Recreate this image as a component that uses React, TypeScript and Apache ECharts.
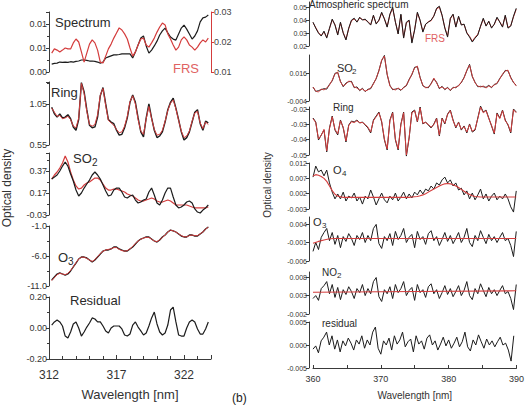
import React, { useEffect, useRef } from "react";
import * as echarts from "echarts";

// ---------- Left panel (312–324 nm), sampled every 0.2 nm from 312.2 ----------
const leftStart = 312.2;
const leftStep = 0.2;

const leftSpectrum = [0.0023,0.0025,0.0026,0.0029,0.0028,0.0029,0.0028,0.003,0.0029,0.0031,0.0032,0.0035,0.0035,0.0034,0.0032,0.0032,0.0031,0.0029,0.0026,0.0029,0.0041,0.0044,0.0047,0.005,0.005,0.0051,0.0053,0.0053,0.0053,0.0053,0.0041,0.0058,0.0079,0.0099,0.0105,0.0076,0.0055,0.0064,0.0076,0.009,0.0108,0.012,0.0128,0.0114,0.0102,0.0096,0.0093,0.0111,0.0128,0.0137,0.0125,0.0111,0.0096,0.0105,0.012,0.0146,0.0158,0.016,0.0166];
const leftFRS = [0.0163,0.0177,0.0173,0.0167,0.0173,0.018,0.0177,0.0177,0.0197,0.021,0.02,0.0167,0.0133,0.0163,0.0193,0.0207,0.0197,0.0173,0.0133,0.013,0.0153,0.0177,0.0193,0.0213,0.023,0.0247,0.024,0.0227,0.021,0.018,0.0153,0.0167,0.019,0.021,0.0213,0.019,0.0183,0.0197,0.0213,0.0233,0.025,0.0263,0.0257,0.0227,0.021,0.019,0.0173,0.0183,0.0207,0.0217,0.0207,0.019,0.0183,0.0173,0.0183,0.0197,0.0207,0.02,0.0213];
const leftRing = [1.01,0.93,0.89,0.93,0.88,0.89,0.92,0.87,0.77,0.73,0.86,1.31,1.2,0.98,0.79,0.76,0.77,0.89,1.15,1.25,1.05,0.86,0.83,0.81,0.73,0.67,0.68,0.76,0.88,1.07,1.16,1.07,0.88,0.71,0.65,0.88,1.05,0.88,0.73,0.64,0.66,0.71,0.83,0.98,1.07,1.12,1.0,0.86,0.71,0.61,0.64,0.71,0.83,0.95,0.98,0.81,0.73,0.84,0.82];
const leftRingFit = [1.0,0.95,0.9,0.91,0.87,0.88,0.9,0.86,0.78,0.76,0.88,1.3,1.18,0.96,0.8,0.78,0.8,0.92,1.16,1.24,1.03,0.85,0.82,0.79,0.74,0.7,0.71,0.78,0.9,1.08,1.15,1.05,0.86,0.72,0.68,0.87,1.02,0.87,0.74,0.67,0.68,0.73,0.84,0.97,1.06,1.1,0.99,0.85,0.72,0.64,0.66,0.72,0.84,0.94,0.96,0.82,0.75,0.83,0.8];
const leftSO2 = [0.297,0.315,0.334,0.37,0.415,0.452,0.415,0.343,0.279,0.197,0.143,0.17,0.215,0.252,0.288,0.334,0.361,0.334,0.297,0.243,0.188,0.143,0.152,0.197,0.215,0.215,0.179,0.134,0.125,0.143,0.152,0.106,0.079,0.088,0.106,0.115,0.179,0.215,0.152,0.079,0.061,0.106,0.17,0.215,0.215,0.134,0.061,0.034,0.043,0.061,0.088,0.097,0.079,0.025,-0.003,-0.012,0.015,0.034,0.061];
const leftSO2Fit = [0.297,0.334,0.361,0.397,0.443,0.506,0.452,0.361,0.288,0.234,0.206,0.215,0.243,0.261,0.27,0.288,0.306,0.306,0.288,0.252,0.215,0.197,0.197,0.206,0.206,0.197,0.188,0.179,0.161,0.152,0.143,0.125,0.106,0.097,0.097,0.106,0.115,0.125,0.115,0.097,0.088,0.088,0.097,0.106,0.097,0.079,0.061,0.061,0.061,0.061,0.061,0.052,0.043,0.034,0.034,0.034,0.034,0.034,0.043];
const leftO3 = [-10.0,-9.5,-9.0,-8.83,-9.0,-9.17,-9.0,-8.5,-7.83,-7.17,-6.5,-6.17,-6.17,-6.33,-6.67,-7.0,-6.67,-6.17,-5.67,-5.17,-5.0,-5.0,-4.83,-4.5,-4.5,-4.83,-5.0,-5.17,-5.17,-4.83,-4.5,-4.0,-3.5,-3.17,-3.0,-2.83,-2.83,-3.17,-3.5,-3.67,-3.33,-2.83,-2.5,-2.0,-1.67,-1.83,-2.0,-2.33,-2.67,-2.83,-2.83,-2.5,-2.5,-2.67,-2.67,-2.33,-2.0,-1.5,-1.17];
const leftO3Fit = [-10.1,-9.6,-9.1,-8.9,-9.0,-9.1,-8.9,-8.4,-7.8,-7.1,-6.5,-6.2,-6.2,-6.4,-6.7,-6.9,-6.6,-6.1,-5.6,-5.2,-5.0,-4.9,-4.8,-4.6,-4.6,-4.9,-5.1,-5.2,-5.1,-4.8,-4.4,-3.9,-3.5,-3.2,-3.0,-2.9,-2.9,-3.2,-3.5,-3.6,-3.3,-2.9,-2.5,-2.0,-1.7,-1.8,-2.0,-2.3,-2.6,-2.8,-2.8,-2.6,-2.5,-2.6,-2.6,-2.3,-2.0,-1.5,-1.2];
const leftResidual = [0.019,0.039,0.052,0.039,0.013,-0.052,-0.065,-0.026,0.026,0.039,0,-0.052,-0.026,0.006,0.032,0.065,0.058,0.039,0.039,0.013,-0.019,-0.032,0,0.013,0.013,0.013,-0.006,-0.045,-0.052,-0.039,0.019,0.039,0.006,-0.019,-0.045,-0.032,0.013,0.065,0.103,0.026,-0.026,-0.045,-0.032,0.019,0.116,0.135,0.039,-0.045,-0.052,-0.052,0,0.039,0.052,0.039,-0.006,-0.039,-0.039,-0.006,0.039];

const leftTicks = { min: 312, max: 324, interval: 5 };

// ---------- Right panel (360–390 nm), sampled every 0.4 nm from 360.0 ----------
const rightStart = 360.0;
const rightStep = 0.4;

const rightAtmos = [0.0387,0.034,0.0301,0.0278,0.0317,0.0262,0.034,0.0411,0.0364,0.0286,0.0387,0.0301,0.0247,0.034,0.0403,0.0418,0.0387,0.0426,0.0403,0.0411,0.0387,0.0364,0.0442,0.0372,0.0403,0.0465,0.0411,0.0348,0.045,0.0504,0.0387,0.0294,0.045,0.0262,0.0387,0.0403,0.0223,0.0325,0.0465,0.0403,0.0309,0.0372,0.0387,0.0403,0.0434,0.0496,0.0512,0.0442,0.034,0.027,0.0418,0.045,0.0348,0.0434,0.0364,0.0372,0.0301,0.027,0.0231,0.0262,0.0286,0.0356,0.0418,0.0356,0.0395,0.034,0.0372,0.0426,0.0387,0.0348,0.0442,0.034,0.0356,0.0434,0.0496];
const rightFRS = [0.0383,0.0345,0.0305,0.0283,0.031,0.0268,0.0335,0.0405,0.0368,0.0292,0.038,0.0306,0.0253,0.0335,0.0398,0.0412,0.039,0.042,0.0408,0.0405,0.0392,0.0368,0.0436,0.0378,0.0398,0.0458,0.0415,0.0352,0.0445,0.0495,0.039,0.0298,0.0443,0.0268,0.0382,0.0398,0.0232,0.033,0.0458,0.0398,0.0315,0.0368,0.0392,0.0398,0.0438,0.049,0.0505,0.0438,0.0345,0.0278,0.0412,0.0445,0.0352,0.0428,0.0368,0.0368,0.0305,0.0276,0.0238,0.0268,0.0292,0.0352,0.0412,0.036,0.039,0.0345,0.0368,0.042,0.039,0.0352,0.0436,0.0345,0.036,0.0428,0.0488];
const rightSO2 = [0.006,0.0028,0.0034,0.0041,0.0048,0.0045,0.0079,0.0104,0.0158,0.0163,0.0101,0.0062,0.0088,0.0098,0.0101,0.0055,0.0061,0.0034,0.0051,0.0027,0.0044,0.0048,0.0086,0.0119,0.0179,0.0249,0.0286,0.0148,0.0072,0.0041,0.0045,0.0049,0.0036,0.0058,0.0069,0.0115,0.0148,0.0201,0.0205,0.0129,0.0069,0.0058,0.0055,0.0086,0.0119,0.0094,0.0048,0.0065,0.0041,0.0058,0.0034,0.0058,0.0055,0.0072,0.0091,0.0129,0.0176,0.0222,0.0134,0.0094,0.0062,0.0065,0.0062,0.0058,0.0072,0.0055,0.0079,0.0084,0.0122,0.0148,0.0179,0.0176,0.0129,0.0091,0.0072];
const rightSO2Fit = [0.006,0.0031,0.0024,0.0046,0.0039,0.0053,0.0074,0.011,0.0153,0.0167,0.0096,0.0067,0.0081,0.0103,0.0096,0.006,0.0053,0.0039,0.0046,0.0031,0.0039,0.0053,0.0081,0.0124,0.0174,0.0253,0.0281,0.0153,0.0067,0.0046,0.0039,0.0053,0.0039,0.0053,0.0074,0.011,0.0153,0.0196,0.021,0.0124,0.0074,0.0053,0.006,0.0081,0.0124,0.0089,0.0053,0.006,0.0046,0.0053,0.0039,0.0053,0.006,0.0067,0.0096,0.0124,0.0181,0.0217,0.0139,0.0089,0.0067,0.006,0.0067,0.0053,0.0067,0.006,0.0074,0.0089,0.0117,0.0153,0.0174,0.0181,0.0124,0.0096,0.0067];
const rightRing = [-0.0258,-0.0284,-0.0402,-0.0369,-0.0337,-0.048,-0.0323,-0.0245,-0.0337,-0.0369,-0.0271,-0.0323,-0.0415,-0.0304,-0.0278,-0.0284,-0.0271,-0.0291,-0.0284,-0.0304,-0.0323,-0.0356,-0.0271,-0.0245,-0.0219,-0.0284,-0.0402,-0.0467,-0.0271,-0.0219,-0.0402,-0.0467,-0.0297,-0.0219,-0.0507,-0.0389,-0.0219,-0.0206,-0.0284,-0.0186,-0.0297,-0.0284,-0.0304,-0.0323,-0.0297,-0.0258,-0.0376,-0.0258,-0.0297,-0.0232,-0.0206,-0.0271,-0.0323,-0.0284,-0.0337,-0.031,-0.0356,-0.0297,-0.035,-0.0337,-0.0258,-0.018,-0.0219,-0.0206,-0.0258,-0.031,-0.0363,-0.0225,-0.0258,-0.0206,-0.0271,-0.0304,-0.0356,-0.0199,-0.0219];
const rightRingFit = [-0.0262,-0.0288,-0.0395,-0.0372,-0.0332,-0.0472,-0.0328,-0.025,-0.0332,-0.0362,-0.0276,-0.0318,-0.0408,-0.0308,-0.0282,-0.0288,-0.0276,-0.0288,-0.0288,-0.03,-0.0318,-0.035,-0.0276,-0.025,-0.0224,-0.028,-0.0396,-0.046,-0.0276,-0.0224,-0.0396,-0.046,-0.0302,-0.0224,-0.05,-0.0384,-0.0224,-0.021,-0.028,-0.0192,-0.0292,-0.0288,-0.03,-0.0318,-0.0302,-0.0262,-0.037,-0.0262,-0.0292,-0.0236,-0.021,-0.0276,-0.0318,-0.0288,-0.0332,-0.0314,-0.035,-0.0302,-0.0345,-0.0332,-0.0262,-0.0186,-0.0224,-0.021,-0.0262,-0.0306,-0.0357,-0.023,-0.0262,-0.021,-0.0276,-0.03,-0.035,-0.0204,-0.0224];
const rightO4 = [0.0074,0.011,0.0091,0.0097,0.0078,0.0097,0.0055,0.0025,0.0003,0.0019,0.0003,0.0025,-0.0004,0.0012,0.0006,0.0022,-0.0004,0.0009,-0.0014,0.0012,0.0003,0.0032,0.0009,-0.0017,0.0003,0.0022,0,-0.001,0.0012,0,0.0022,-0.0004,0.0009,0.0025,0.0003,0.0019,0.0006,0.0025,0.0016,0.0032,0.0019,0.0035,0.0029,0.0045,0.0035,0.0055,0.0048,0.0065,0.0074,0.0055,0.0065,0.0045,0.0055,0.0032,0.0038,0.0016,0.0029,0.0003,0.0022,0,0.0016,0.0035,0.0003,0.0019,-0.0004,0.0012,0.0022,0,0.0012,0.0003,0.0019,0.0003,-0.0023,-0.004,0.0029];
const rightO4Fit = [0.0078,0.0082,0.008,0.0076,0.007,0.006,0.0045,0.003,0.0018,0.0012,0.001,0.0008,0.0008,0.0008,0.0008,0.0008,0.0008,0.0008,0.0008,0.0008,0.0008,0.0008,0.0008,0.0008,0.0008,0.0008,0.0008,0.0008,0.0008,0.0008,0.0008,0.0008,0.0008,0.0008,0.0008,0.0008,0.0009,0.001,0.0011,0.0013,0.0016,0.002,0.0025,0.003,0.0035,0.004,0.0045,0.0049,0.0052,0.0053,0.0052,0.0049,0.0045,0.004,0.0034,0.0028,0.0022,0.0017,0.0013,0.0011,0.001,0.0009,0.0009,0.0009,0.0009,0.0009,0.0009,0.0009,0.0009,0.0009,0.0009,0.0009,0.0009,0.0009,0.0009];
const rightO3 = [-0.0034,-0.001,-0.0029,0.0004,0.0017,0.0028,-0.0005,0.0017,-0.0015,0.0009,-0.0024,0.0006,-0.0007,0.0014,0.0001,-0.0018,0.0009,-0.0002,0.0017,-0.001,0.0009,-0.0005,0.0028,0.0039,-0.0013,-0.0026,0.0006,-0.0005,0.0014,-0.0018,0.002,-0.0002,0.0009,0.0028,-0.001,0.0004,0.0012,-0.0024,0.002,-0.0002,0.0006,-0.0015,0.0014,0.0022,-0.0005,0.0006,-0.0018,-0.0002,0.0017,-0.0007,0.0009,-0.0013,0.0001,0.0017,-0.001,0.0004,0.0028,-0.001,-0.0021,0.0009,-0.0005,0.0022,0.0004,-0.0013,0.0012,-0.0005,0.0006,-0.001,0.0004,0.0017,-0.0005,0.0001,-0.0018,-0.0048,0.002];
const rightO3FitWl = [360.0, 360.8, 361.6, 362.4, 363.2, 389.6];
const rightO3FitVal = [-0.0012, -0.0007, -0.0003, 0.0, 0.0001, 0.0001];
const rightNO2 = [0.0022,0.003,0.0017,0.0049,0.0057,0.0068,0.0035,0.006,0.0025,0.0052,0.0019,0.0046,0.0033,0.0054,0.0041,0.0022,0.0049,0.0038,0.006,0.003,0.0049,0.0035,0.0068,0.0079,0.0027,0.0014,0.0046,0.0035,0.0054,0.0022,0.006,0.0038,0.0049,0.0068,0.003,0.0044,0.0052,0.0017,0.006,0.0038,0.0046,0.0025,0.0054,0.0062,0.0035,0.0046,0.0022,0.0038,0.0057,0.0033,0.0049,0.0027,0.0041,0.0057,0.003,0.0044,0.0068,0.003,0.0019,0.0049,0.0035,0.0062,0.0044,0.0027,0.0052,0.0035,0.0046,0.003,0.0044,0.0057,0.0035,0.0041,0.0022,-0.0008,0.006];
const rightNO2FitWl = [360.0, 375.0, 389.6];
const rightNO2FitVal = [0.0039, 0.0041, 0.0043];
const rightResidual = [-0.0009,-0.0002,-0.0017,0.0009,0.0017,0.0028,0,0.002,-0.0009,0.0011,-0.0015,0.0009,-0.0002,0.0015,0.0004,-0.0011,0.0011,0.0002,0.002,-0.0007,0.0011,0,0.0028,0.0039,-0.0007,-0.002,0.0009,0,0.0015,-0.0011,0.002,0.0002,0.0011,0.0028,-0.0004,0.0007,0.0013,-0.0015,0.002,0.0002,0.0009,-0.0009,0.0015,0.0022,0,0.0009,-0.0011,0.0002,0.0017,-0.0002,0.0011,-0.0007,0.0004,0.0017,-0.0004,0.0007,0.0028,-0.0004,-0.0013,0.0011,0,0.0022,0.0007,-0.0007,0.0013,0,0.0009,-0.0004,0.0007,0.0017,0,0.0004,-0.0011,-0.0035,0.002];

const rightTicks = { min: 360, max: 390, interval: 10 };

// ---------- styling ----------
const FONT = "'Liberation Sans', Arial, Helvetica, sans-serif";
const BLACK = "#1c1c1c";
const RED = "#d43c3c";
const AXIS = "#3a3a3a";

const fmt = (d: number) => (v: number) => (Math.abs(v) < 1e-9 ? 0 : v).toFixed(d);
const pairs = (start: number, step: number, vals: number[]) =>
  vals.map((v, i) => [+(start + step * i).toFixed(2), v]);
const pairsXY = (xs: number[], ys: number[]) => xs.map((x, i) => [x, ys[i]]);
const isTickMax = (min: number, max: number, interval: number) => {
  const n = (max - min) / interval;
  return Math.abs(n - Math.round(n)) < 1e-6;
};

export default function App() {
  const ref = useRef<HTMLDivElement>(null);
  useEffect(() => {
    if (!ref.current) return;
    const chart = echarts.init(ref.current, null, { renderer: "svg" });

    const grids: any[] = [];
    const xAxes: any[] = [];
    const yAxes: any[] = [];
    const series: any[] = [];

    const addY = (gi: number, min: number, max: number, interval: number, d: number, fs: number, opts: any = {}) => {
      const color = opts.color || AXIS;
      yAxes.push({
        type: "value",
        gridIndex: gi,
        min, max, interval,
        position: opts.position || "left",
        offset: opts.offset || 0,
        axisLine: { show: true, onZero: false, lineStyle: { color, width: 1 } },
        axisTick: { show: true, inside: false, length: 3, lineStyle: { color } },
        minorTick: { show: !!opts.minor, splitNumber: 2, length: 2, lineStyle: { color } },
        splitLine: { show: false },
        axisLabel: {
          fontSize: fs, fontFamily: FONT, color: opts.labelColor || "#333",
          margin: opts.margin ?? 2, formatter: fmt(d),
          showMaxLabel: isTickMax(min, max, interval), showMinLabel: true,
        },
      });
      return yAxes.length - 1;
    };

    const addX = (gi: number, t: any, show: boolean, o: any = {}) => {
      xAxes.push({
        type: "value", gridIndex: gi, min: t.min, max: t.max, interval: t.interval,
        show,
        axisLine: { show: true, onZero: false, lineStyle: { color: AXIS } },
        axisTick: { show: true, inside: true, length: o.tickLen || 4, lineStyle: { color: AXIS } },
        minorTick: { show: true, splitNumber: o.minorSplit || 5, length: o.minorLen || 3, lineStyle: { color: AXIS } },
        splitLine: { show: false },
        axisLabel: {
          fontSize: o.fs || 12, fontFamily: FONT, color: "#333", margin: o.margin || 8,
          showMaxLabel: isTickMax(t.min, t.max, t.interval),
        },
        name: o.name || "",
        nameLocation: "middle",
        nameGap: o.nameGap || 26,
        nameTextStyle: { fontSize: o.nameFs || 13, fontFamily: FONT, color: "#333" },
      });
      return xAxes.length - 1;
    };

    const line = (xi: number, yi: number, data: any[], color: string, width: number) => {
      series.push({
        type: "line", xAxisIndex: xi, yAxisIndex: yi, data,
        symbol: "none", showSymbol: false, silent: true, clip: false,
        lineStyle: { color, width }, z: 2,
      });
    };

    // ---- left panel ----
    const LX = 49, LW = 162;
    const leftDefs = [
      { top: 12, h: 60, min: 0, max: 0.0175, int: 0.007, d: 2 },
      { top: 82, h: 63, min: 0.55, max: 1.318, int: 0.5, d: 2 },
      { top: 153, h: 62, min: -0.03, max: 0.534, int: 0.2, d: 2 },
      { top: 226, h: 60, min: -11, max: -1, int: 5, d: 1 },
      { top: 297, h: 62, min: -0.2, max: 0.2, int: 0.2, d: 2 },
    ];
    const leftAx: { xi: number; yi: number }[] = [];
    leftDefs.forEach((g, k) => {
      grids.push({ left: LX, top: g.top, width: LW, height: g.h, containLabel: false });
      const gi = grids.length - 1;
      const last = k === leftDefs.length - 1;
      const xi = addX(gi, leftTicks, last, last ? { name: "Wavelength [nm]", nameGap: 29, margin: 10, fs: 12, nameFs: 13 } : {});
      const yi = addY(gi, g.min, g.max, g.int, g.d, 9, { minor: true });
      leftAx.push({ xi, yi });
    });
    const specRightY = addY(0, 0.01, 0.03, 0.01, 2, 9, { position: "right", color: RED, labelColor: "#444", margin: 3 });

    line(leftAx[0].xi, leftAx[0].yi, pairs(leftStart, leftStep, leftSpectrum), BLACK, 1.2);
    line(leftAx[0].xi, specRightY, pairs(leftStart, leftStep, leftFRS), RED, 1.2);
    line(leftAx[1].xi, leftAx[1].yi, pairs(leftStart, leftStep, leftRing), BLACK, 1.4);
    line(leftAx[1].xi, leftAx[1].yi, pairs(leftStart, leftStep, leftRingFit), RED, 1);
    line(leftAx[2].xi, leftAx[2].yi, pairs(leftStart, leftStep, leftSO2Fit), RED, 1.2);
    line(leftAx[2].xi, leftAx[2].yi, pairs(leftStart, leftStep, leftSO2), BLACK, 1.2);
    line(leftAx[3].xi, leftAx[3].yi, pairs(leftStart, leftStep, leftO3), BLACK, 1.3);
    line(leftAx[3].xi, leftAx[3].yi, pairs(leftStart, leftStep, leftO3Fit), RED, 1);
    line(leftAx[4].xi, leftAx[4].yi, pairs(leftStart, leftStep, leftResidual), BLACK, 1.2);

    // ---- right panel ----
    const RX = 313, RW = 206;
    const rightDefs = [
      { top: 2, h: 44, min: 0.02, max: 0.0545, int: 0.01, d: 2 },
      { top: 55, h: 46, min: -0.004, max: 0.0289, int: 0.02, d: 3 },
      { top: 107, h: 48, min: -0.05, max: -0.0186, int: 0.01, d: 2 },
      { top: 163, h: 46, min: -0.003, max: 0.012, int: 0.005, d: 3 },
      { top: 217, h: 44, min: -0.006, max: 0.0059, int: 0.005, d: 3 },
      { top: 272, h: 42, min: -0.002, max: 0.0094, int: 0.005, d: 3 },
      { top: 322, h: 46, min: -0.005, max: 0.005, int: 0.005, d: 3 },
    ];
    const rightAx: { xi: number; yi: number }[] = [];
    rightDefs.forEach((g, k) => {
      grids.push({ left: RX, top: g.top, width: RW, height: g.h, containLabel: false });
      const gi = grids.length - 1;
      const last = k === rightDefs.length - 1;
      const xi = addX(gi, rightTicks, last, last ? { name: "Wavelength [nm]", nameGap: 22, margin: 6, fs: 9, nameFs: 10, minorSplit: 2, tickLen: 3, minorLen: 3 } : {});
      const yi = addY(gi, g.min, g.max, g.int, g.d, 7, { offset: 4, margin: 2 });
      rightAx.push({ xi, yi });
    });
    const rp = (v: number[]) => pairs(rightStart, rightStep, v);
    line(rightAx[0].xi, rightAx[0].yi, rp(rightFRS), RED, 1);
    line(rightAx[0].xi, rightAx[0].yi, rp(rightAtmos), BLACK, 1);
    line(rightAx[1].xi, rightAx[1].yi, rp(rightSO2), BLACK, 1);
    line(rightAx[1].xi, rightAx[1].yi, rp(rightSO2Fit), RED, 0.9);
    line(rightAx[2].xi, rightAx[2].yi, rp(rightRing), BLACK, 1);
    line(rightAx[2].xi, rightAx[2].yi, rp(rightRingFit), RED, 1);
    line(rightAx[3].xi, rightAx[3].yi, rp(rightO4), BLACK, 1);
    line(rightAx[3].xi, rightAx[3].yi, rp(rightO4Fit), RED, 1.1);
    line(rightAx[4].xi, rightAx[4].yi, rp(rightO3), BLACK, 1);
    line(rightAx[4].xi, rightAx[4].yi, pairsXY(rightO3FitWl, rightO3FitVal), RED, 1.1);
    line(rightAx[5].xi, rightAx[5].yi, rp(rightNO2), BLACK, 1);
    line(rightAx[5].xi, rightAx[5].yi, pairsXY(rightNO2FitWl, rightNO2FitVal), RED, 1.1);
    line(rightAx[6].xi, rightAx[6].yi, rp(rightResidual), BLACK, 1);

    const txt = (text: string, x: number, y: number, size: number, color = "#2a2a2a", extra: any = {}) => ({
      type: "text", x, y, silent: true, z: 10, ...extra,
      style: {
        text, fontSize: size, fontFamily: FONT, fill: color,
        align: extra.align || "left", verticalAlign: "middle",
        textAlign: extra.align || "left", textVerticalAlign: "middle",
      },
    });

    const graphics = [
      // left panel labels
      txt("Spectrum", 55, 22, 13),
      txt("FRS", 173, 68, 13, "#e06262"),
      txt("Ring", 51, 92, 13),
      txt("SO", 73, 158, 13),
      txt("2", 92, 162, 10),
      txt("O", 58, 257, 13),
      txt("3", 68, 261, 10),
      txt("Residual", 70, 300, 13),
      { ...txt("Optical density", 7, 188, 12, "#333", { align: "center" }), rotation: Math.PI / 2 },
      // right panel labels
      txt("Atmospheric spectrum", 309, 4, 10),
      txt("FRS", 425, 38, 10, "#e06262"),
      txt("SO", 337, 68, 11),
      txt("2", 352, 71, 8),
      txt("Ring", 333, 107, 10),
      txt("O", 333, 170, 11),
      txt("4", 342, 173, 8),
      txt("O", 313, 222, 11),
      txt("3", 322, 225, 8),
      txt("NO", 322, 272, 10),
      txt("2", 337, 275, 8),
      txt("residual", 322, 323, 10),
      { ...txt("Optical density", 267, 185, 10, "#333", { align: "center" }), rotation: Math.PI / 2 },
      txt("(b)", 232, 398, 12, "#222"),
    ];

    chart.setOption({
      animation: false,
      backgroundColor: "#ffffff",
      grid: grids,
      xAxis: xAxes,
      yAxis: yAxes,
      series,
      graphic: { elements: graphics },
    });
    return () => chart.dispose();
  }, []);
  return <div ref={ref} style={{ position: "absolute", left: 0, top: 0, width: 527, height: 407 }} />;
}
